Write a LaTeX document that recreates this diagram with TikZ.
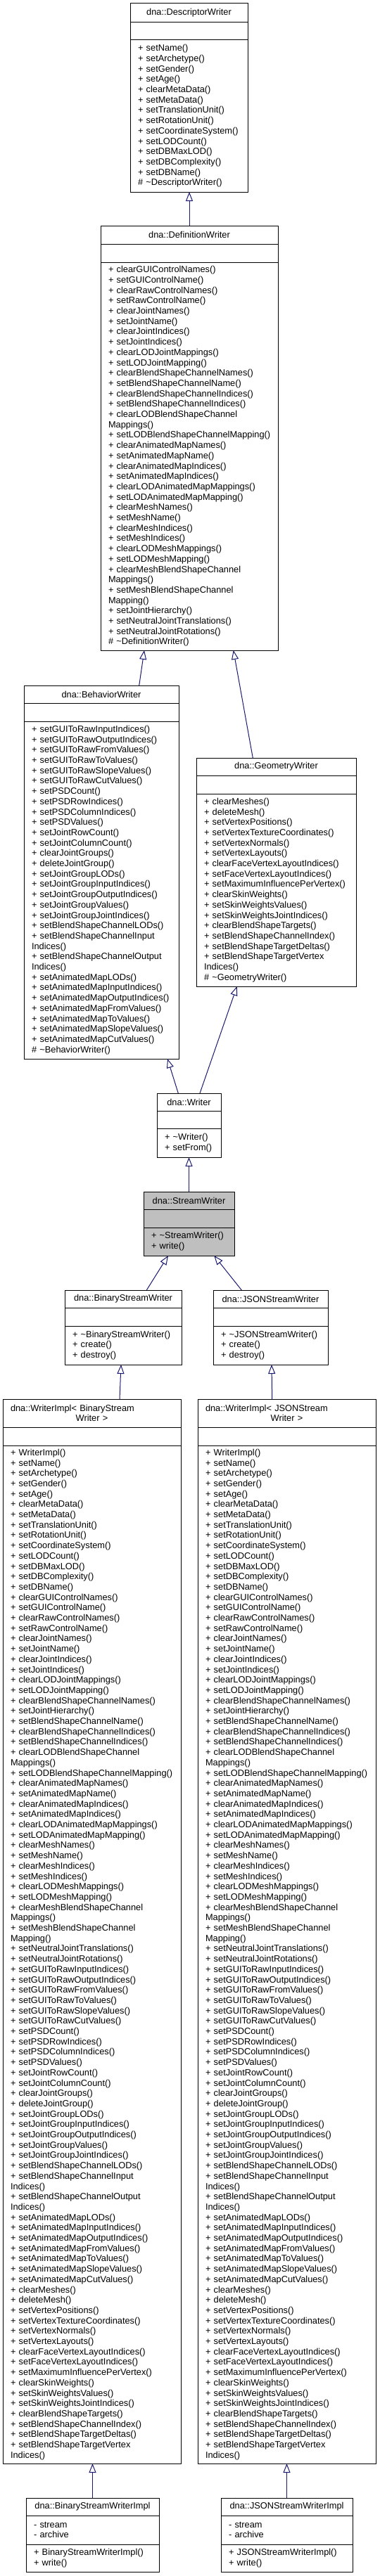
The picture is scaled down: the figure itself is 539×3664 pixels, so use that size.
\documentclass[tikz,border=0pt]{standalone}
\usepackage{fontspec}
\setmainfont{Liberation Sans}
\usetikzlibrary{arrows.meta}

\definecolor{edgeblue}{HTML}{191970}
\definecolor{streamgray}{HTML}{BFBFBF}

\hyphenpenalty=10000
\exhyphenpenalty=10000
\newcommand\umlfont{\fontsize{12.8}{14.7}\selectfont\lefthyphenmin=64 }

% member list shared by both WriterImpl boxes
\newcommand\implops{%
+~WriterImpl()\\
+~setName()\\
+~setArchetype()\\
+~setGender()\\
+~setAge()\\
+~clearMetaData()\\
+~setMetaData()\\
+~setTranslationUnit()\\
+~setRotationUnit()\\
+~setCoordinateSystem()\\
+~setLODCount()\\
+~setDBMaxLOD()\\
+~setDBComplexity()\\
+~setDBName()\\
+~clearGUIControlNames()\\
+~setGUIControlName()\\
+~clearRawControlNames()\\
+~setRawControlName()\\
+~clearJointNames()\\
+~setJointName()\\
+~clearJointIndices()\\
+~setJointIndices()\\
+~clearLODJointMappings()\\
+~setLODJointMapping()\\
+~clearBlendShapeChannelNames()\\
+~setJointHierarchy()\\
+~setBlendShapeChannelName()\\
+~clearBlendShapeChannelIndices()\\
+~setBlendShapeChannelIndices()\\
+~clearLODBlendShapeChannel\\
Mappings()\\
+~setLODBlendShapeChannelMapping()\\
+~clearAnimatedMapNames()\\
+~setAnimatedMapName()\\
+~clearAnimatedMapIndices()\\
+~setAnimatedMapIndices()\\
+~clearLODAnimatedMapMappings()\\
+~setLODAnimatedMapMapping()\\
+~clearMeshNames()\\
+~setMeshName()\\
+~clearMeshIndices()\\
+~setMeshIndices()\\
+~clearLODMeshMappings()\\
+~setLODMeshMapping()\\
+~clearMeshBlendShapeChannel\\
Mappings()\\
+~setMeshBlendShapeChannel\\
Mapping()\\
+~setNeutralJointTranslations()\\
+~setNeutralJointRotations()\\
+~setGUIToRawInputIndices()\\
+~setGUIToRawOutputIndices()\\
+~setGUIToRawFromValues()\\
+~setGUIToRawToValues()\\
+~setGUIToRawSlopeValues()\\
+~setGUIToRawCutValues()\\
+~setPSDCount()\\
+~setPSDRowIndices()\\
+~setPSDColumnIndices()\\
+~setPSDValues()\\
+~setJointRowCount()\\
+~setJointColumnCount()\\
+~clearJointGroups()\\
+~deleteJointGroup()\\
+~setJointGroupLODs()\\
+~setJointGroupInputIndices()\\
+~setJointGroupOutputIndices()\\
+~setJointGroupValues()\\
+~setJointGroupJointIndices()\\
+~setBlendShapeChannelLODs()\\
+~setBlendShapeChannelInput\\
Indices()\\
+~setBlendShapeChannelOutput\\
Indices()\\
+~setAnimatedMapLODs()\\
+~setAnimatedMapInputIndices()\\
+~setAnimatedMapOutputIndices()\\
+~setAnimatedMapFromValues()\\
+~setAnimatedMapToValues()\\
+~setAnimatedMapSlopeValues()\\
+~setAnimatedMapCutValues()\\
+~clearMeshes()\\
+~deleteMesh()\\
+~setVertexPositions()\\
+~setVertexTextureCoordinates()\\
+~setVertexNormals()\\
+~setVertexLayouts()\\
+~clearFaceVertexLayoutIndices()\\
+~setFaceVertexLayoutIndices()\\
+~setMaximumInfluencePerVertex()\\
+~clearSkinWeights()\\
+~setSkinWeightsValues()\\
+~setSkinWeightsJointIndices()\\
+~clearBlendShapeTargets()\\
+~setBlendShapeChannelIndex()\\
+~setBlendShapeTargetDeltas()\\
+~setBlendShapeTargetVertex\\
Indices()}

\begin{document}
\begin{tikzpicture}
    [%%%%%%%%%%%%%%%%%%%%%%%%%%%%%%
        x=1pt, y=-1pt,
        part/.style={draw=black, line width=1pt, fill=white, anchor=north west,
                     outer sep=0pt, font=\umlfont},
        hd/.style={part, inner xsep=2pt, inner ysep=0pt, align=center},
        mid/.style={part, inner sep=0pt},
        ops/.style={part, inner xsep=11pt, inner ysep=0pt, align=left},
        inherit/.style={draw=edgeblue, line width=1pt,
                        -{Triangle[open, length=13pt, width=10pt]}},
    ]%%%%%%%%%%%%%%%%%%%%%%%%%%%%%%
\fill[white] (0,0) rectangle (539,3664);

% DescriptorWriter
\node[hd, text width=163pt, minimum height=27] (desc) at (185,5) {dna::DescriptorWriter};
\node[mid, minimum width=167, minimum height=25] (desc-attr) at (desc.south west) {};
\node[ops, text width=145pt, minimum height=216] (desc-ops) at (desc-attr.south west) {%
+~setName()\\
+~setArchetype()\\
+~setGender()\\
+~setAge()\\
+~clearMetaData()\\
+~setMetaData()\\
+~setTranslationUnit()\\
+~setRotationUnit()\\
+~setCoordinateSystem()\\
+~setLODCount()\\
+~setDBMaxLOD()\\
+~setDBComplexity()\\
+~setDBName()\\
\#~\textasciitilde DescriptorWriter()};

% DefinitionWriter
\node[hd, text width=248pt, minimum height=26] (defn) at (143,321) {dna::DefinitionWriter};
\node[mid, minimum width=252, minimum height=26] (defn-attr) at (defn.south west) {};
\node[ops, text width=230pt, minimum height=552] (defn-ops) at (defn-attr.south west) {%
+~clearGUIControlNames()\\
+~setGUIControlName()\\
+~clearRawControlNames()\\
+~setRawControlName()\\
+~clearJointNames()\\
+~setJointName()\\
+~clearJointIndices()\\
+~setJointIndices()\\
+~clearLODJointMappings()\\
+~setLODJointMapping()\\
+~clearBlendShapeChannelNames()\\
+~setBlendShapeChannelName()\\
+~clearBlendShapeChannelIndices()\\
+~setBlendShapeChannelIndices()\\
+~clearLODBlendShapeChannel\\
Mappings()\\
+~setLODBlendShapeChannelMapping()\\
+~clearAnimatedMapNames()\\
+~setAnimatedMapName()\\
+~clearAnimatedMapIndices()\\
+~setAnimatedMapIndices()\\
+~clearLODAnimatedMapMappings()\\
+~setLODAnimatedMapMapping()\\
+~clearMeshNames()\\
+~setMeshName()\\
+~clearMeshIndices()\\
+~setMeshIndices()\\
+~clearLODMeshMappings()\\
+~setLODMeshMapping()\\
+~clearMeshBlendShapeChannel\\
Mappings()\\
+~setMeshBlendShapeChannel\\
Mapping()\\
+~setJointHierarchy()\\
+~setNeutralJointTranslations()\\
+~setNeutralJointRotations()\\
\#~\textasciitilde DefinitionWriter()};

% BehaviorWriter
\node[hd, text width=216pt, minimum height=25] (behav) at (34,975) {dna::BehaviorWriter};
\node[mid, minimum width=220, minimum height=26] (behav-attr) at (behav.south west) {};
\node[ops, text width=198pt, minimum height=480] (behav-ops) at (behav-attr.south west) {%
+~setGUIToRawInputIndices()\\
+~setGUIToRawOutputIndices()\\
+~setGUIToRawFromValues()\\
+~setGUIToRawToValues()\\
+~setGUIToRawSlopeValues()\\
+~setGUIToRawCutValues()\\
+~setPSDCount()\\
+~setPSDRowIndices()\\
+~setPSDColumnIndices()\\
+~setPSDValues()\\
+~setJointRowCount()\\
+~setJointColumnCount()\\
+~clearJointGroups()\\
+~deleteJointGroup()\\
+~setJointGroupLODs()\\
+~setJointGroupInputIndices()\\
+~setJointGroupOutputIndices()\\
+~setJointGroupValues()\\
+~setJointGroupJointIndices()\\
+~setBlendShapeChannelLODs()\\
+~setBlendShapeChannelInput\\
Indices()\\
+~setBlendShapeChannelOutput\\
Indices()\\
+~setAnimatedMapLODs()\\
+~setAnimatedMapInputIndices()\\
+~setAnimatedMapOutputIndices()\\
+~setAnimatedMapFromValues()\\
+~setAnimatedMapToValues()\\
+~setAnimatedMapSlopeValues()\\
+~setAnimatedMapCutValues()\\
\#~\textasciitilde BehaviorWriter()};

% GeometryWriter
\node[hd, text width=223pt, minimum height=25] (geom) at (279,1078) {dna::GeometryWriter};
\node[mid, minimum width=227, minimum height=26] (geom-attr) at (geom.south west) {};
\node[ops, text width=205pt, minimum height=274] (geom-ops) at (geom-attr.south west) {%
+~clearMeshes()\\
+~deleteMesh()\\
+~setVertexPositions()\\
+~setVertexTextureCoordinates()\\
+~setVertexNormals()\\
+~setVertexLayouts()\\
+~clearFaceVertexLayoutIndices()\\
+~setFaceVertexLayoutIndices()\\
+~setMaximumInfluencePerVertex()\\
+~clearSkinWeights()\\
+~setSkinWeightsValues()\\
+~setSkinWeightsJointIndices()\\
+~clearBlendShapeTargets()\\
+~setBlendShapeChannelIndex()\\
+~setBlendShapeTargetDeltas()\\
+~setBlendShapeTargetVertex\\
Indices()\\
\#~\textasciitilde GeometryWriter()};

% Writer
\node[hd, text width=87pt, minimum height=25] (writer) at (223,1555) {dna::Writer};
\node[mid, minimum width=91, minimum height=25] (writer-attr) at (writer.south west) {};
\node[ops, text width=69pt, minimum height=41] (writer-ops) at (writer-attr.south west) {%
+~\textasciitilde Writer()\\
+~setFrom()};

% StreamWriter
\node[hd, fill=streamgray, text width=125pt, minimum height=25] (stream) at (204,1695) {dna::StreamWriter};
\node[mid, fill=streamgray, minimum width=129, minimum height=26] (stream-attr) at (stream.south west) {};
\node[ops, fill=streamgray, text width=107pt, minimum height=40] (stream-ops) at (stream-attr.south west) {%
+~\textasciitilde StreamWriter()\\
+~write()};

% BinaryStreamWriter
\node[hd, text width=162pt, minimum height=25] (bsw) at (92,1835) {dna::BinaryStreamWriter};
\node[mid, minimum width=166, minimum height=26] (bsw-attr) at (bsw.south west) {};
\node[ops, text width=144pt, minimum height=55] (bsw-ops) at (bsw-attr.south west) {%
+~\textasciitilde BinaryStreamWriter()\\
+~create()\\
+~destroy()};

% JSONStreamWriter
\node[hd, text width=159pt, minimum height=25] (jsw) at (303,1835) {dna::JSONStreamWriter};
\node[mid, minimum width=163, minimum height=26] (jsw-attr) at (jsw.south west) {};
\node[ops, text width=141pt, minimum height=55] (jsw-ops) at (jsw-attr.south west) {%
+~\textasciitilde JSONStreamWriter()\\
+~create()\\
+~destroy()};

% WriterImpl< BinaryStreamWriter >
\node[hd, inner xsep=11pt, align=left, text width=231pt, minimum height=40] (binimpl) at (4,1990)
    {dna::WriterImpl<~BinaryStream\\\makebox[231pt]{Writer >}};
\node[mid, minimum width=253, minimum height=26] (binimpl-attr) at (binimpl.south west) {};
\node[ops, text width=231pt, minimum height=1448] (binimpl-ops) at (binimpl-attr.south west) {\implops};

% WriterImpl< JSONStreamWriter >
\node[hd, inner xsep=11pt, align=left, text width=231pt, minimum height=40] (jsonimpl) at (281,1990)
    {dna::WriterImpl<~JSONStream\\\makebox[231pt]{Writer >}};
\node[mid, minimum width=253, minimum height=26] (jsonimpl-attr) at (jsonimpl.south west) {};
\node[ops, text width=231pt, minimum height=1448] (jsonimpl-ops) at (jsonimpl-attr.south west) {\implops};

% BinaryStreamWriterImpl
\node[hd, text width=185pt, minimum height=25] (bsimpl) at (37,3553) {dna::BinaryStreamWriterImpl};
\node[ops, text width=167pt, minimum height=41] (bsimpl-attr) at (bsimpl.south west) {%
-~stream\\
-~archive};
\node[ops, text width=167pt, minimum height=39] (bsimpl-ops) at (bsimpl-attr.south west) {%
+~BinaryStreamWriterImpl()\\
+~write()};

% JSONStreamWriterImpl
\node[hd, text width=183pt, minimum height=25] (jsimpl) at (314,3553) {dna::JSONStreamWriterImpl};
\node[ops, text width=165pt, minimum height=41] (jsimpl-attr) at (jsimpl.south west) {%
-~stream\\
-~archive};
\node[ops, text width=165pt, minimum height=39] (jsimpl-ops) at (jsimpl-attr.south west) {%
+~JSONStreamWriterImpl()\\
+~write()};

% inheritance
\draw[inherit] (defn.north) -- (defn.north |- desc-ops.south);
\draw[inherit] ([xshift=53.7pt]behav.north) -- ([xshift=-64pt]defn-ops.south);
\draw[inherit] ([xshift=-33.2pt]geom.north) -- ([xshift=62.7pt]defn-ops.south);
\draw[inherit] ([xshift=-15.2pt]writer.north) -- ([xshift=94pt]behav-ops.south);
\draw[inherit] ([xshift=15.5pt]writer.north) -- ([xshift=-55.8pt]geom-ops.south);
\draw[inherit] (stream.north) -- (stream.north |- writer-ops.south);
\draw[inherit] ([xshift=33.3pt]bsw.north) -- ([xshift=-29.5pt]stream-ops.south);
\draw[inherit] ([xshift=-41.2pt]jsw.north) -- ([xshift=35.8pt]stream-ops.south);
\draw[inherit] ([xshift=39.5pt]binimpl.north) -- ([xshift=-3pt]bsw-ops.south);
\draw[inherit] ([xshift=-20.8pt]jsonimpl.north) -- ([xshift=1.5pt]jsw-ops.south);
\draw[inherit] (bsimpl.north) -- (bsimpl.north |- binimpl-ops.south);
\draw[inherit] (jsimpl.north) -- (jsimpl.north |- jsonimpl-ops.south);
\end{tikzpicture}
\end{document}
